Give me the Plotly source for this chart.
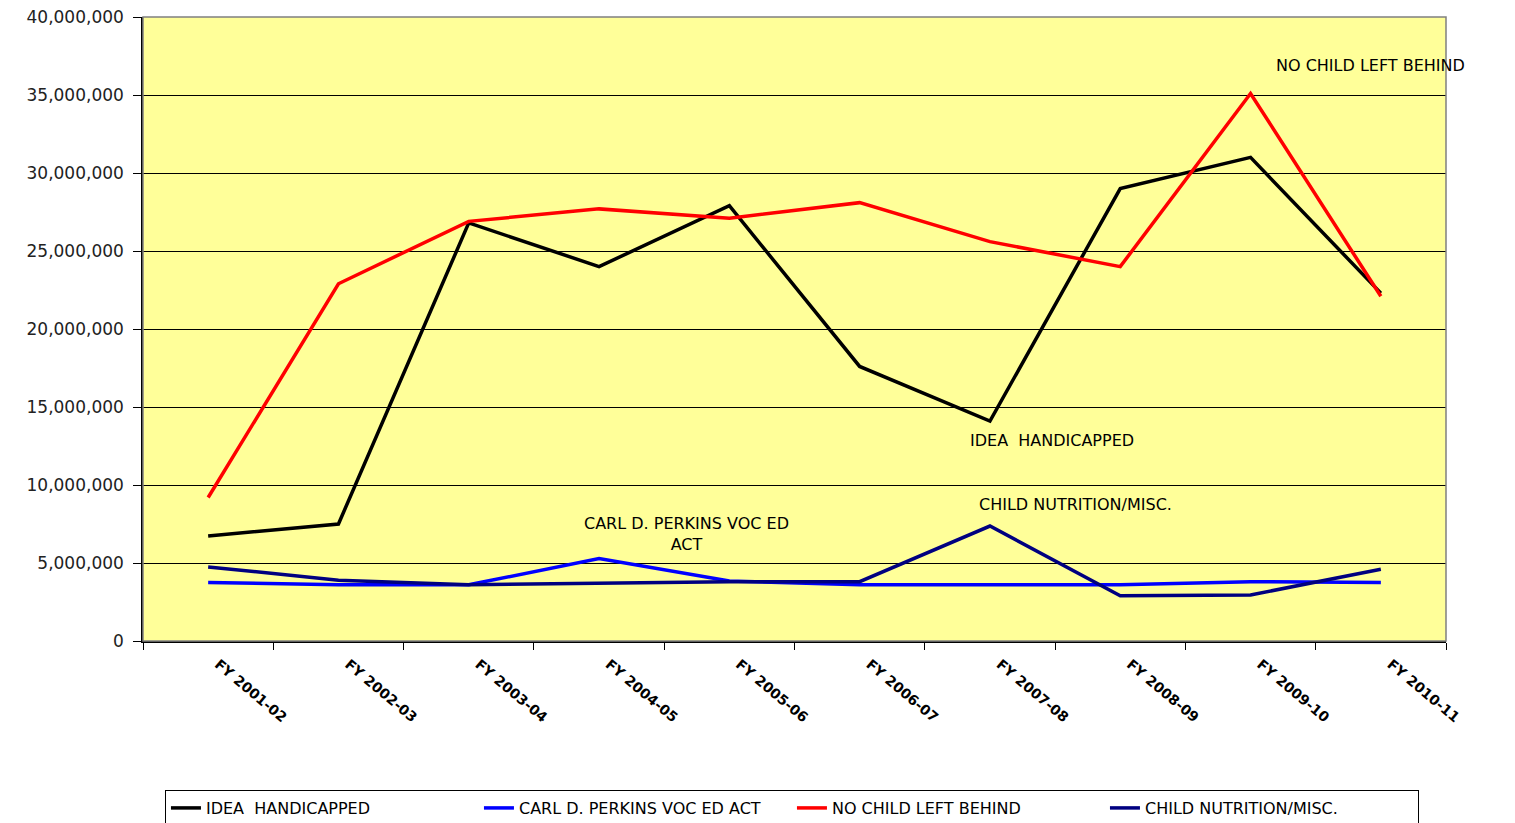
import plotly.graph_objects as go

years = ["FY 2001-02", "FY 2002-03", "FY 2003-04", "FY 2004-05", "FY 2005-06",
         "FY 2006-07", "FY 2007-08", "FY 2008-09", "FY 2009-10", "FY 2010-11"]

idea_handicapped = [6730000, 7500000, 26800000, 24000000, 27900000,
                    17600000, 14100000, 29000000, 31000000, 22300000]
perkins_voc_ed = [3750000, 3600000, 3600000, 5280000, 3850000,
                  3600000, 3600000, 3600000, 3800000, 3750000]
no_child_left_behind = [9200000, 22900000, 26900000, 27700000, 27100000,
                        28100000, 25600000, 24000000, 35100000, 22100000]
child_nutrition = [4750000, 3900000, 3600000, 3700000, 3800000,
                   3800000, 7370000, 2900000, 2950000, 4600000]

series = [
    ("IDEA  HANDICAPPED", idea_handicapped, "#000000"),
    ("CARL D. PERKINS VOC ED ACT", perkins_voc_ed, "#0000FF"),
    ("NO CHILD LEFT BEHIND", no_child_left_behind, "#FF0000"),
    ("CHILD NUTRITION/MISC.", child_nutrition, "#000080"),
]

fig = go.Figure()
for name, vals, color in series:
    fig.add_trace(go.Scatter(x=years, y=vals, mode="lines", name=name,
                             line=dict(color=color, width=3.5)))

font_family = "DejaVu Sans, Verdana, sans-serif"

annotations = [
    dict(text="NO CHILD LEFT BEHIND", x=0.942, y=0.923),
    dict(text="IDEA  HANDICAPPED", x=0.698, y=0.322),
    dict(text="CARL D. PERKINS VOC ED<br>ACT", x=0.417, y=0.171),
    dict(text="CHILD NUTRITION/MISC.", x=0.716, y=0.218),
]
for a in annotations:
    fig.add_annotation(text=a["text"], x=a["x"], y=a["y"], xref="paper", yref="paper",
                       showarrow=False, xanchor="center", yanchor="middle",
                       font=dict(family=font_family, size=16, color="#000000"))

fig.add_shape(type="rect", xref="paper", yref="paper", x0=0, x1=1, y0=0, y1=1,
              line=dict(color="#808080", width=1.5), layer="above")

fig.update_layout(
    width=1515, height=823,
    margin=dict(l=135, r=77, t=9, b=190),
    paper_bgcolor="#FFFFFF",
    plot_bgcolor="#FFFF99",
    font=dict(family=font_family, size=14, color="#000000"),
    showlegend=True,
    legend=dict(orientation="h", xref="container", yref="container",
                x=0.1036, y=0.0498, xanchor="left", yanchor="top",
                bgcolor="#FFFFFF", bordercolor="#000000", borderwidth=1,
                font=dict(family=font_family, size=16, color="#000000"),
                itemwidth=30, entrywidth=268, entrywidthmode="pixels", tracegroupgap=0),
)

fig.update_xaxes(type="category", range=[-0.5, 9.5], tickson="boundaries",
                 ticks="outside", ticklen=7, automargin=False,
                 tickcolor="#000000", showline=True, linecolor="#000000", linewidth=1.5,
                 showgrid=False, tickangle=40, ticklabelshift=10, ticklabelstandoff=8,
                 tickfont=dict(family=font_family, size=14, color="#000000", weight="bold"))
fig.update_yaxes(range=[0, 40000000], dtick=5000000, tickformat=",",
                 ticks="outside", ticklen=8, tickcolor="#000000", automargin=False,
                 showline=True, linecolor="#000000", linewidth=1.5, ticklabelstandoff=6,
                 ticklabeloverflow="allow",
                 showgrid=True, gridcolor="#000000", gridwidth=1, zeroline=False,
                 tickfont=dict(family=font_family, size=17, color="#222222"))

fig.write_html("out.html")
